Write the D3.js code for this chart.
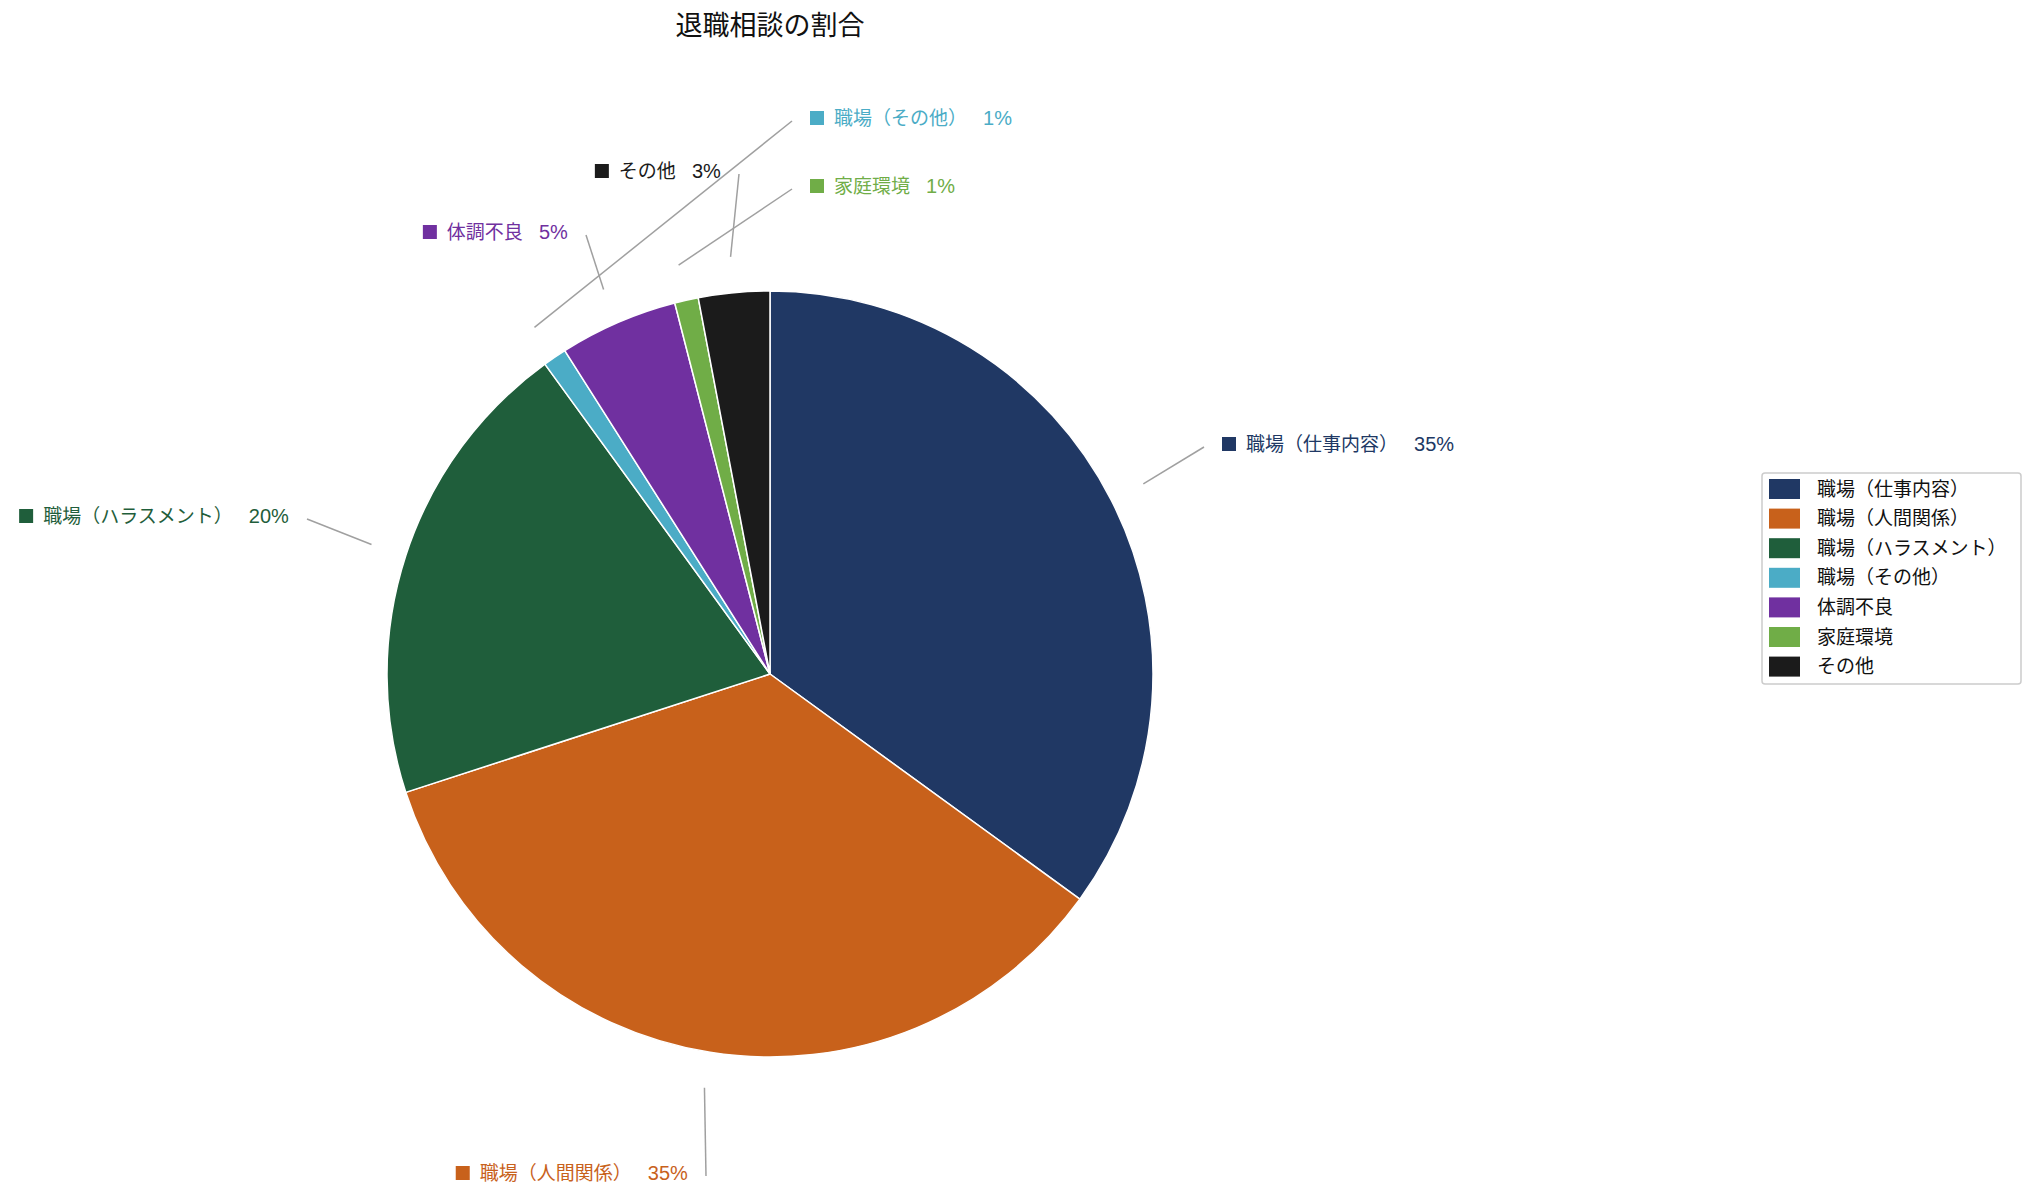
<!DOCTYPE html>
<html><head><meta charset="utf-8">
<script src="https://cdn.jsdelivr.net/npm/d3@7"></script>
<style>
body{margin:0;background:#fff}
text{font-family:"Liberation Sans","Noto Sans CJK JP",sans-serif}
</style></head>
<body><svg id="c" width="2035" height="1200"></svg>
<script>
const title = "退職相談の割合";
const categories = ["職場（仕事内容）","職場（人間関係）","職場（ハラスメント）","職場（その他）","体調不良","家庭環境","その他"];
const values = [35, 35, 20, 1, 5, 1, 3];
const colors = ["#203864","#C8611B","#1F5E3B","#4BACC6","#7030A0","#70AD47","#1B1B1B"];
// label anchor offsets from the pie centre (layout only)
const labelOffsets = [[434,-227],[-64,502],[-463,-155],[22,-553],[-184,-439],[22,-485],[-31,-500]];

const svg = d3.select("#c");
const cx = 770, cy = 674, R = 383;
const total = d3.sum(values);
const color = d3.scaleOrdinal().domain(categories).range(colors);
const fmt = v => Math.round(v / total * 100) + "%";

svg.append("text").attr("x", 770).attr("y", 26).attr("text-anchor","middle")
  .attr("dominant-baseline","central").attr("font-size", 27).attr("fill","#111").text(title);

const data = categories.map((c,i)=>({name:c, value:values[i], off:labelOffsets[i]}));
const pie = d3.pie().sort(null).value(d=>d.value);
const arcs = pie(data);
const arc = d3.arc().innerRadius(0).outerRadius(R);
const lineArc = d3.arc().innerRadius(R+36).outerRadius(R+36);

const g = svg.append("g").attr("transform",`translate(${cx},${cy})`);
g.selectAll("path.slice").data(arcs).join("path").attr("class","slice")
  .attr("d", arc).attr("fill", d=>color(d.data.name))
  .attr("stroke","#fff").attr("stroke-width",1.5).attr("stroke-linejoin","round");

g.selectAll("line.leader").data(arcs).join("line").attr("class","leader")
  .attr("x1", d=>lineArc.centroid(d)[0]).attr("y1", d=>lineArc.centroid(d)[1])
  .attr("x2", d=>d.data.off[0]).attr("y2", d=>d.data.off[1])
  .attr("stroke","#a0a0a0").attr("stroke-width",1.5);

const fs = 19, sq = 14, gapSq = 10, gapVal = 16, gapLine = 18;
arcs.forEach(d=>{
  const [ex, ey] = d.data.off;
  const col = color(d.data.name);
  const lg = g.append("g");
  lg.append("rect").attr("x",0).attr("y",-sq/2).attr("width",sq).attr("height",sq).attr("fill",col);
  const t = lg.append("text").attr("x", sq+gapSq).attr("y",0).attr("dominant-baseline","central")
    .attr("font-size", fs).attr("fill", col);
  t.append("tspan").text(d.data.name);
  t.append("tspan").attr("dx", gapVal).attr("font-size", 20).text(fmt(d.data.value));
  const w = lg.node().getBBox().width;
  const tx = ex < 0 ? ex - gapLine - w : ex + gapLine;
  lg.attr("transform", `translate(${tx},${ey-3})`);
});

// legend
const lx = 1762, ly = 473, lw = 259, lh = 211, pitch = 29.6;
svg.append("rect").attr("x",lx).attr("y",ly).attr("width",lw).attr("height",lh)
  .attr("rx",3).attr("fill","#fff").attr("stroke","#cccccc").attr("stroke-width",1.5);
const leg = svg.append("g").selectAll("g").data(categories).join("g")
  .attr("transform",(d,i)=>`translate(${lx+7},${ly+16+i*pitch})`);
leg.append("rect").attr("x",0).attr("y",-10).attr("width",31).attr("height",20).attr("fill",d=>color(d));
leg.append("text").attr("x",48).attr("y",0).attr("dominant-baseline","central")
  .attr("font-size",19).attr("fill","#111").text(d=>d);
</script></body></html>
